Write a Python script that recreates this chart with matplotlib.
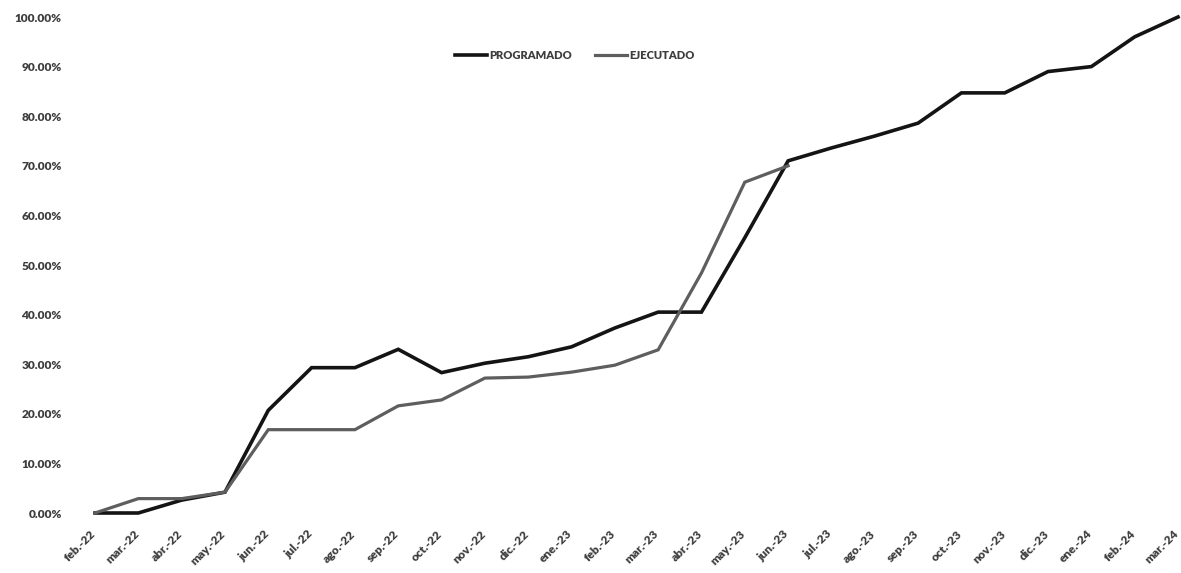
import matplotlib
matplotlib.use("Agg")
import matplotlib.pyplot as plt
import matplotlib.transforms as mtransforms
from matplotlib.ticker import FuncFormatter

# Data (cumulative %)
months = ["feb.-22", "mar.-22", "abr.-22", "may.-22", "jun.-22", "jul.-22", "ago.-22",
          "sep.-22", "oct.-22", "nov.-22", "dic.-22", "ene.-23", "feb.-23", "mar.-23",
          "abr.-23", "may.-23", "jun.-23", "jul.-23", "ago.-23", "sep.-23", "oct.-23",
          "nov.-23", "dic.-23", "ene.-24", "feb.-24", "mar.-24"]

programado = [0.0, 0.0, 2.6, 4.2, 20.7, 29.3, 29.3, 33.0, 28.3, 30.2, 31.5, 33.5, 37.3,
              40.5, 40.5, 55.5, 71.0, 73.6, 76.0, 78.6, 84.7, 84.7, 89.0, 90.0, 96.0, 100.0]

ejecutado = [0.0, 2.9, 2.9, 4.2, 16.8, 16.8, 16.8, 21.6, 22.8, 27.2, 27.4, 28.4, 29.8,
             32.9, 48.4, 66.7, 70.0]

TEXT_COLOR = "#3d3d3d"
FONT = ["Lato", "DejaVu Sans"]

fig = plt.figure(figsize=(11.81, 5.73), dpi=100)
ax = fig.add_axes([95 / 1181, 60 / 573, (1178 - 95) / 1181, (513 - 17) / 573])

x_prog = list(range(len(programado)))
x_ejec = list(range(len(ejecutado)))

ax.plot(x_prog, programado, color="#141414", linewidth=2.6, label="PROGRAMADO",
        solid_joinstyle="miter", zorder=2)
ax.plot(x_ejec, ejecutado, color="#5e5e5e", linewidth=2.3, label="EJECUTADO",
        solid_joinstyle="miter", zorder=3)

ax.set_xlim(0, len(months) - 1)
ax.set_ylim(0, 100)
ax.set_yticks(range(0, 101, 10))
ax.yaxis.set_major_formatter(FuncFormatter(lambda v, p: f"{v:.2f}%"))
ax.set_xticks(x_prog)
ax.set_xticklabels(months, rotation=45, ha="right", rotation_mode="anchor")

ax.tick_params(axis="y", length=0, pad=24)
ax.tick_params(axis="x", length=0, pad=11)
for side in ["top", "right", "bottom", "left"]:
    ax.spines[side].set_visible(False)

for lab in ax.get_yticklabels():
    lab.set_fontfamily(FONT)
    lab.set_fontweight("heavy")
    lab.set_fontsize(8.6)
    lab.set_color(TEXT_COLOR)

# nudge x labels a bit left so the last one stays inside the figure
shift = mtransforms.ScaledTranslation(-5 / 100, 0, fig.dpi_scale_trans)
for lab in ax.get_xticklabels():
    lab.set_fontfamily(FONT)
    lab.set_fontweight("heavy")
    lab.set_fontsize(8.6)
    lab.set_color(TEXT_COLOR)
    lab.set_transform(lab.get_transform() + shift)

for ln in ax.get_lines():
    ln.set_clip_on(False)

leg = ax.legend(loc="center", bbox_to_anchor=(0.443, 0.923), ncol=2, frameon=False,
                handlelength=2.9, handletextpad=0.2, columnspacing=2.0,
                prop={"family": FONT, "weight": "heavy", "size": 8})
for t in leg.get_texts():
    t.set_color(TEXT_COLOR)

plt.savefig("out.png", dpi=100, facecolor="white")
